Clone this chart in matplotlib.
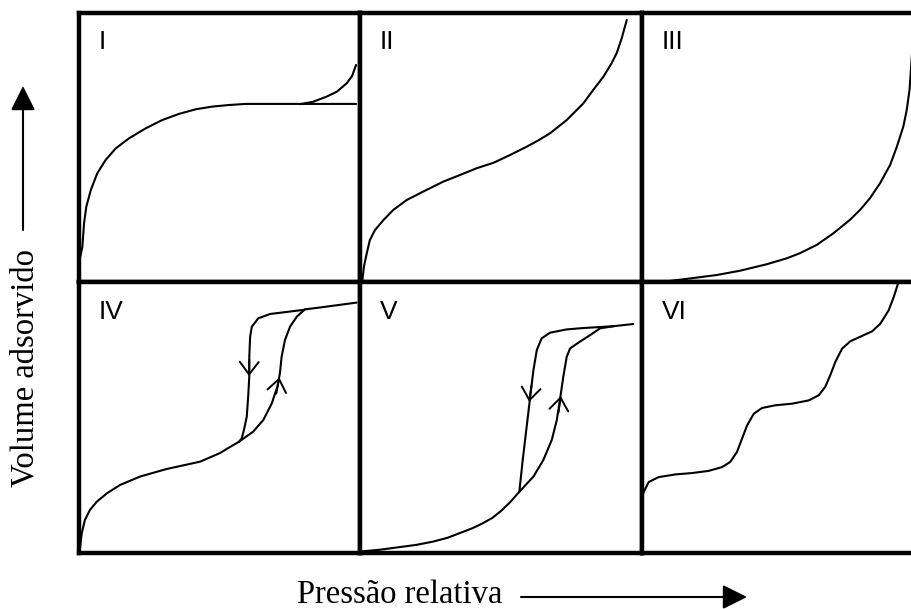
import matplotlib
matplotlib.use("Agg")
import matplotlib.pyplot as plt
from matplotlib.patches import FancyArrowPatch

# ---------------- data (normalized panel coordinates) -------------
panel_labels = ["I", "II", "III", "IV", "V", "VI"]

typeI_x = [0.0, 0.006, 0.012, 0.018, 0.026, 0.042, 0.065, 0.095, 0.131, 0.178, 0.237,
           0.296, 0.356, 0.415, 0.474, 0.534, 0.593, 0.700, 0.986]
typeI_y = [0.08, 0.10, 0.131, 0.219, 0.280, 0.342, 0.404, 0.454, 0.497, 0.534, 0.571,
           0.602, 0.625, 0.642, 0.652, 0.658, 0.662, 0.662, 0.662]
typeI_up_x = [0.786, 0.833, 0.881, 0.917, 0.953, 0.972, 0.986]
typeI_up_y = [0.661, 0.670, 0.689, 0.707, 0.739, 0.766, 0.807]

typeII_x = [0.008, 0.010, 0.014, 0.024, 0.035, 0.053, 0.083, 0.118, 0.166, 0.224, 0.295,
            0.355, 0.414, 0.473, 0.532, 0.591, 0.630, 0.674, 0.733, 0.792, 0.827, 0.863,
            0.892, 0.910, 0.928, 0.946]
typeII_y = [0.0, 0.020, 0.057, 0.107, 0.156, 0.193, 0.230, 0.268, 0.305, 0.336, 0.373,
            0.398, 0.423, 0.443, 0.472, 0.503, 0.525, 0.553, 0.602, 0.664, 0.714, 0.763,
            0.813, 0.850, 0.906, 0.974]

typeIII_x = [0.0, 0.076, 0.147, 0.266, 0.349, 0.444, 0.515, 0.562, 0.622, 0.681, 0.740,
             0.776, 0.811, 0.847, 0.883, 0.907, 0.930, 0.942, 0.952, 0.957, 0.962, 0.966]
typeIII_y = [0.0, 0.001, 0.010, 0.026, 0.042, 0.066, 0.088, 0.107, 0.138, 0.181, 0.231,
             0.268, 0.311, 0.367, 0.435, 0.503, 0.578, 0.639, 0.714, 0.788, 0.870, 0.950]

typeIV_low_x = [0.0, 0.004, 0.010, 0.021, 0.039, 0.063, 0.099, 0.146, 0.217, 0.312, 0.431,
                0.502, 0.537, 0.570]
typeIV_low_y = [0.0, 0.023, 0.074, 0.122, 0.159, 0.189, 0.220, 0.251, 0.282, 0.310, 0.337,
                0.369, 0.391, 0.411]
typeIV_ads_x = [0.570, 0.620, 0.656, 0.686, 0.706, 0.715, 0.721, 0.733, 0.751, 0.775, 0.804,
                0.858, 0.988]
typeIV_ads_y = [0.411, 0.448, 0.491, 0.552, 0.614, 0.663, 0.724, 0.786, 0.835, 0.872, 0.899,
                0.906, 0.924]
typeIV_des_x = [0.804, 0.798, 0.680, 0.638, 0.615, 0.609, 0.606, 0.606, 0.602, 0.597, 0.587,
                0.579, 0.570]
typeIV_des_y = [0.899, 0.897, 0.882, 0.866, 0.835, 0.798, 0.724, 0.651, 0.577, 0.503, 0.454,
                0.423, 0.411]

typeV_low_x = [0.0, 0.007, 0.07, 0.142, 0.2, 0.259, 0.31, 0.355, 0.40, 0.436, 0.47, 0.50,
               0.532, 0.565]
typeV_low_y = [0.0, 0.006, 0.012, 0.022, 0.030, 0.042, 0.056, 0.074, 0.092, 0.110, 0.130,
               0.155, 0.187, 0.226]
typeV_ads_x = [0.565, 0.615, 0.650, 0.680, 0.698, 0.709, 0.721, 0.733, 0.745, 0.780, 0.816,
               0.851, 0.900, 0.969]
typeV_ads_y = [0.226, 0.282, 0.343, 0.417, 0.491, 0.565, 0.651, 0.724, 0.755, 0.780, 0.804,
               0.829, 0.837, 0.845]
typeV_des_x = [0.900, 0.790, 0.733, 0.674, 0.644, 0.627, 0.615, 0.605, 0.591, 0.577, 0.565]
typeV_des_y = [0.837, 0.830, 0.825, 0.813, 0.792, 0.749, 0.675, 0.589, 0.466, 0.343, 0.226]

typeVI_x = [0.0, 0.006, 0.024, 0.059, 0.119, 0.178, 0.237, 0.285, 0.314, 0.338, 0.356,
            0.374, 0.398, 0.427, 0.474, 0.534, 0.593, 0.629, 0.652, 0.670, 0.688, 0.712,
            0.741, 0.783, 0.819, 0.848, 0.878, 0.896, 0.911]
typeVI_y = [0.205, 0.225, 0.262, 0.280, 0.290, 0.295, 0.303, 0.317, 0.336, 0.373, 0.422,
            0.471, 0.514, 0.535, 0.545, 0.551, 0.563, 0.582, 0.613, 0.656, 0.705, 0.754,
            0.781, 0.801, 0.818, 0.846, 0.896, 0.945, 0.994]

# hysteresis direction arrows: (tip x, tip y, tail dx, tail dy) in panel coordinates
arrows_IV = [(0.605, 0.653, 0.001, 0.06), (0.713, 0.648, -0.011, -0.06)]
arrows_V = [(0.600, 0.558, 0.008, 0.06), (0.712, 0.579, -0.008, -0.06)]

xlabel = "Pressão relativa"
ylabel = "Volume adsorvido"

# ---------------- figure ----------------
W, H = 911, 609
fig = plt.figure(figsize=(W / 100, H / 100), dpi=100)

col_left = [79, 360, 642]
col_width = [281, 282, 281]
row_top = [13, 282]
row_height = [269, 271]

LW = 1.5
BORDER = 3.2

axes = []
for r in range(2):
    for c in range(3):
        l = col_left[c] / W
        b = 1 - (row_top[r] + row_height[r]) / H
        ax = fig.add_axes([l, b, col_width[c] / W, row_height[r] / H])
        ax.set_xlim(0, 1)
        ax.set_ylim(0, 1)
        ax.set_xticks([])
        ax.set_yticks([])
        for s in ax.spines.values():
            s.set_linewidth(BORDER)
            s.set_color("black")
        axes.append(ax)

for ax, lab in zip(axes, panel_labels):
    ax.text(0.07, 0.935, lab, transform=ax.transAxes, ha="left", va="top",
            fontsize=19, family=["Liberation Sans", "DejaVu Sans"], color="black")

kw = dict(color="black", lw=LW, solid_capstyle="round", solid_joinstyle="round")
axes[0].plot(typeI_x, typeI_y, **kw)
axes[0].plot(typeI_up_x, typeI_up_y, **kw)
axes[1].plot(typeII_x, typeII_y, **kw)
axes[2].plot(typeIII_x, typeIII_y, **kw)
axes[3].plot(typeIV_low_x, typeIV_low_y, **kw)
axes[3].plot(typeIV_ads_x, typeIV_ads_y, **kw)
axes[3].plot(typeIV_des_x, typeIV_des_y, **kw)
axes[4].plot(typeV_low_x, typeV_low_y, **kw)
axes[4].plot(typeV_ads_x, typeV_ads_y, **kw)
axes[4].plot(typeV_des_x, typeV_des_y, **kw)
axes[5].plot(typeVI_x, typeVI_y, **kw)

for ax, arrs in ((axes[3], arrows_IV), (axes[4], arrows_V)):
    for tx, ty, dx, dy in arrs:
        ax.annotate("", xy=(tx, ty), xytext=(tx + dx, ty + dy),
                    arrowprops=dict(arrowstyle="->,head_length=0.45,head_width=0.34",
                                    lw=1.4, color="black", mutation_scale=20,
                                    shrinkA=0, shrinkB=0))

serif = ["Liberation Serif", "DejaVu Serif"]
fig.text(297 / W, 1 - 603 / H, xlabel, ha="left", va="baseline",
         fontsize=23.5, family=serif, color="black")
fig.text(25 / W, 1 - 368 / H, ylabel, ha="center", va="center", rotation=90,
         fontsize=23.5, family=serif, color="black")

fig.add_artist(FancyArrowPatch(
    (521 / W, 1 - 597 / H), (747 / W, 1 - 597 / H), transform=fig.transFigure,
    arrowstyle="-|>,head_length=0.6,head_width=0.3", mutation_scale=25,
    lw=1.5, color="black", shrinkA=0, shrinkB=0))
fig.add_artist(FancyArrowPatch(
    (23 / W, 1 - 230 / H), (23 / W, 1 - 86 / H), transform=fig.transFigure,
    arrowstyle="-|>,head_length=0.6,head_width=0.3", mutation_scale=25,
    lw=1.5, color="black", shrinkA=0, shrinkB=0))

fig.savefig("out.png", dpi=100)
